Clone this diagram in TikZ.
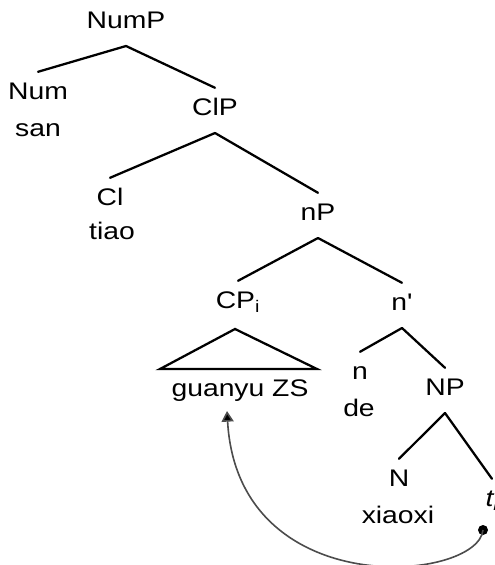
\documentclass[tikz,border=0pt]{standalone}
\usepackage{fontspec}
\setmainfont{Liberation Sans}[FakeStretch=1.18,Ligatures=TeXOff]
\usepackage{tikz}
\usetikzlibrary{arrows.meta,calc,positioning}

\begin{document}
\begin{tikzpicture}[x=0.75pt,y=-0.75pt,font=\fontsize{18}{21}\selectfont,>=Latex,
  lab/.style={inner sep=0pt,text height=12.5pt,text depth=0pt,anchor=south},
  branch/.style={line width=1.7pt,line cap=round},
  tracedot/.style={circle,fill=black,inner sep=0pt,minimum size=7.5pt}]
 \useasboundingbox[fill=white] (0,0) rectangle (495,565);
 \clip (0,0) rectangle (495,565);
 % labels, placed on their baselines
 \node[lab] (NumP) at (126,29) {NumP};
 \node[lab] (Num) at (38,100) {Num};
 \node[lab] (san) at (38,137) {san};
 \node[lab] (ClP) at (215,116) {ClP};
 \node[lab] (Cl) at (110,206) {Cl};
 \node[lab] (tiao) at (112,240) {tiao};
 \node[lab] (nP) at (318,221) {nP};
 \node[lab] (CPi) at (238,309) {CP\textsubscript{i}};
 \node[lab] (guanyu) at (240,397) {guanyu ZS};
 \node[lab] (nbar) at (402,311) {n'};
 \node[lab] (n) at (360,380) {n};
 \node[lab] (de) at (359,417) {de};
 \node[lab] (NP) at (445,396) {NP};
 \node[lab] (N) at (399,487) {N};
 \node[lab] (xiaoxi) at (398,524) {xiaoxi};
 \node[lab] (ti) at (492,507) {\textit{t\textsubscript{i}}};
 % branches
 \foreach \p/\c in {NumP/Num,NumP/ClP,ClP/Cl,ClP/nP,nP/CPi,nP/nbar,nbar/n,nbar/NP,NP/N,NP/ti}
  \draw[branch] ($(\p.south)+(0,17)$) -- ($(\c.north)+(0,-11)$);
 % roof over guanyu ZS
 \draw[line width=1.7pt] ($(CPi.south)+(-3,20)$) -- ++(-75,40) -- ++(157,0) -- cycle;
 % movement
 \node[tracedot] (trace) at (483,530) {};
 \coordinate (landing) at (227,411);
 \draw[line width=1.2pt,black!70,-{Triangle[width=9pt,length=8pt,fill=black]}]
  (trace.center) .. controls (478,582) and (238,604) .. (landing);
\end{tikzpicture}
\end{document}
